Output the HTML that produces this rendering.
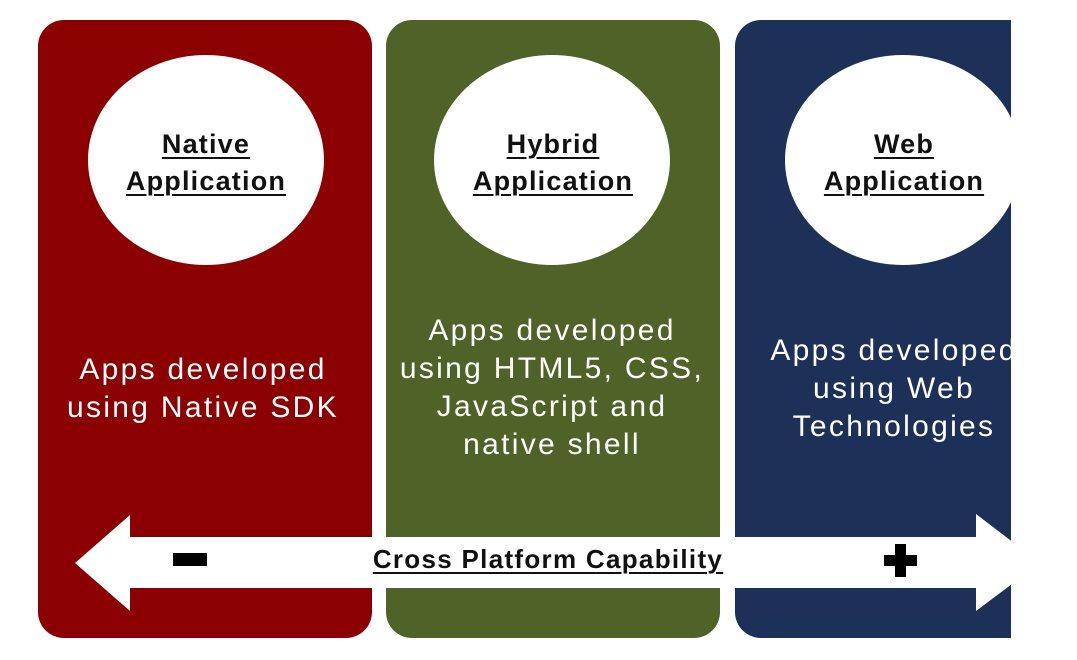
<!DOCTYPE html>
<html><head><style>
body{margin:0;width:1077px;height:660px;background:#fff;overflow:hidden;position:relative;font-family:"Liberation Sans",sans-serif}
#clip{position:absolute;left:0;top:0;width:1011px;height:660px;overflow:hidden}
.p{position:absolute;top:20px;height:618px;border-radius:26px}
.c{position:absolute;background:#fff;border-radius:50%;width:236px;height:210px;top:55px}
.t{position:absolute;width:300px;text-align:center;font-weight:bold;font-size:27px;line-height:37px;color:#111;top:126px;letter-spacing:1.2px}
.t span{text-decoration:underline;text-decoration-thickness:2px;text-underline-offset:4px}
.b{position:absolute;width:360px;text-align:center;color:#fff;font-size:30px;line-height:38px;letter-spacing:2.3px}
</style></head><body>
<div id="clip">
<div class="p" style="left:38px;width:334px;background:#8b0000"></div>
<div class="p" style="left:386px;width:334px;background:#4f6228"></div>
<div class="p" style="left:735px;width:334px;background:#1d3057"></div>
<div class="c" style="left:88px"></div>
<div class="c" style="left:434px"></div>
<div class="c" style="left:785px"></div>
<div class="t" style="left:56px"><span>Native</span><br><span>Application</span></div>
<div class="t" style="left:403px"><span>Hybrid</span><br><span>Application</span></div>
<div class="t" style="left:754px"><span>Web</span><br><span>Application</span></div>
<div class="b" style="left:23px;top:351px">Apps developed<br>using Native SDK</div>
<div class="b" style="left:372px;top:312px">Apps developed<br>using HTML5, CSS,<br>JavaScript and<br>native shell</div>
<div class="b" style="left:714px;top:332px">Apps developed<br>using Web<br>Technologies</div>
<svg style="position:absolute;left:0;top:0" width="1077" height="660">
<polygon points="75,563 130,515 130,537 976,537 976,514 1040,563 976,611 976,588 130,588 130,611" fill="#fff"/>
<rect x="173" y="553" width="34" height="13" fill="#000"/>
<rect x="884" y="555" width="33" height="11" fill="#000"/>
<rect x="895" y="544" width="11" height="33" fill="#000"/>
</svg>
<div style="position:absolute;left:298px;top:544px;width:500px;text-align:center;font-weight:bold;font-size:26px;letter-spacing:1.3px;color:#111"><span style="text-decoration:underline;text-decoration-thickness:2px;text-underline-offset:4px">Cross Platform Capability</span></div>
</div>
</body></html>
